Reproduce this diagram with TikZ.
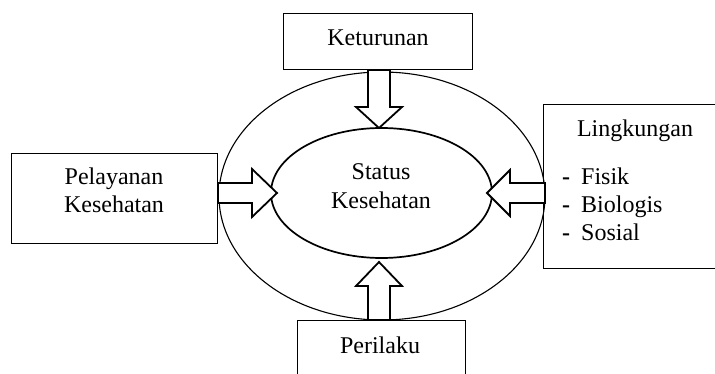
\documentclass[tikz,border=0pt]{standalone}
\usepackage{fontspec}
\setmainfont{Liberation Serif}
\usetikzlibrary{shapes.geometric}
\begin{document}
\begin{tikzpicture}[x=1pt,y=-1pt,
  box/.style={draw, line width=0.9pt, inner sep=0pt},
  lbl/.style={font=\fontsize{24}{28}\selectfont, inner sep=0pt, anchor=base},
  ring/.style={draw, ellipse, inner sep=0pt},
  blockarrow/.style={draw, fill=white, line width=1.8pt, line join=miter}]
\path[use as bounding box] (0,0) rectangle (715,374);
\clip (0,0) rectangle (715,374);
% ellipses
\node[ring, line width=1.1pt, minimum width=326pt, minimum height=248pt] (outer) at (382,196) {};
\node[ring, line width=1.7pt, minimum width=221pt, minimum height=130pt] (inner) at (381.5,193) {};
\node[lbl] (status1) at (381,180) {Status};
\node[lbl] (status2) at (381,209) {Kesehatan};
% boxes
\node[box, minimum width=189pt, minimum height=56pt] (ket) at (377.5,41) {};
\node[lbl] (kett) at (378,46) {Keturunan};
\node[box, minimum width=206pt, minimum height=90pt] (pel) at (114,198) {};
\node[lbl] (pelt1) at (114,185) {Pelayanan};
\node[lbl] (pelt2) at (114,213) {Kesehatan};
\node[box, minimum width=192pt, minimum height=164pt] (lin) at (639,186) {};
\node[lbl] (lint) at (635,137) {Lingkungan};
\node[lbl, anchor=base west] (l1) at (562,185) {\makebox[19pt][l]{\textbf{-}}Fisik};
\node[lbl, anchor=base west] (l2) at (562,213) {\makebox[19pt][l]{\textbf{-}}Biologis};
\node[lbl, anchor=base west] (l3) at (562,241) {\makebox[19pt][l]{\textbf{-}}Sosial};
\node[box, minimum width=168pt, minimum height=80pt] (per) at (381,360) {};
\node[lbl] (pert) at (380,353) {Perilaku};
% block arrows
\draw[blockarrow] (368,70) -- (368,107) -- (356,107) -- (379,128) -- (402,107) -- (390,107) -- (390,70) -- cycle;
\draw[blockarrow] (368,320) -- (368,286) -- (356,286) -- (379,262) -- (402,286) -- (390,286) -- (390,320) -- cycle;
\draw[blockarrow] (218,183) -- (252,183) -- (252,169) -- (277,193) -- (252,217) -- (252,203) -- (218,203) -- cycle;
\draw[blockarrow] (545,183) -- (510,183) -- (510,170) -- (487,193) -- (510,216) -- (510,203) -- (545,203) -- cycle;
\end{tikzpicture}
\end{document}
